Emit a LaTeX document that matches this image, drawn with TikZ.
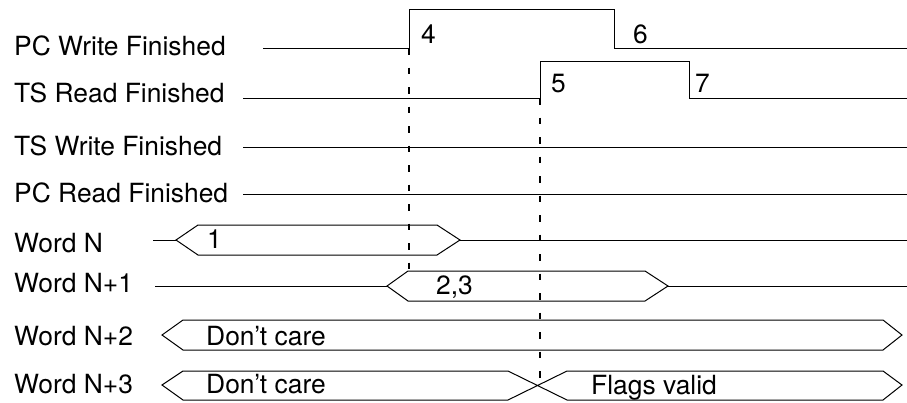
\documentclass[tikz,border=0pt]{standalone}
\usepackage{fontspec}
\setmainfont{TeX Gyre Heros}
\usetikzlibrary{positioning}

\begin{document}
\begin{tikzpicture}[x=1pt,y=-1pt,
    sig/.style={line width=1pt, line join=miter},
    marker/.style={line width=2pt, dash pattern=on 6.5pt off 13pt},
    lbl/.style={anchor=base west, inner sep=0pt, font=\fontsize{26.4}{30}\selectfont}]
  \useasboundingbox (0,0) rectangle (907,402);
  % signal names
  \foreach \name/\txt/\y in {pcw/PC Write Finished/55, tsr/TS Read Finished/102,
      tsw/TS Write Finished/155, pcr/PC Read Finished/202, wn/Word N/252,
      wna/Word N+1/292, wnb/Word N+2/345, wnc/Word N+3/393}
    \node[lbl] (\name) at (14,\y) {\txt};
  % flag lines
  \draw[sig] (263,48) -- (409,48) -- (409,9) -- (614,9) -- (614,48) -- (907,48);
  \draw[sig] (243,98) -- (540,98) -- (540,61) -- (689,61) -- (689,98) -- (907,98);
  \draw[sig] (243,147) -- (907,147);
  \draw[sig] (243,194) -- (907,194);
  % data words
  \draw[sig] (153,240) -- (176,240) (460,240) -- (907,240);
  \draw[sig] (176,240) -- (198,225) -- (437,225) -- (460,240) -- (437,255) -- (198,255) -- cycle;
  \draw[sig] (155,286) -- (387,286) (668,286) -- (907,286);
  \draw[sig] (387,286) -- (408,271) -- (645,271) -- (668,286) -- (645,301) -- (408,301) -- cycle;
  \draw[sig] (162,335) -- (183,320) -- (883,320) -- (902,335) -- (883,350) -- (183,350) -- cycle;
  \draw[sig] (162,385) -- (183,371) -- (508,371) -- (567,400) -- (883,400) -- (902,385)
    -- (883,371) -- (567,371) -- (508,400) -- (183,400) -- cycle;
  % event markers
  \coordinate (rise4) at (409,48);
  \coordinate (wna-open) at (409,271);
  \coordinate (rise5) at (540,98);
  \coordinate (wnc-cross) at (540,385);
  \draw[marker] (rise4) -- (wna-open);
  \draw[marker] (rise5) -- (wnc-cross);
  % step numbers
  \node[lbl] (e4) at (421,43) {4};
  \node[lbl] (e6) at (633,43) {6};
  \node[lbl] (e5) at (551,92) {5};
  \node[lbl] (e7) at (695,92) {7};
  \node[lbl] (e1) at (207,248) {1};
  \node[lbl] (e23) at (436,294) {2,3};
  \node[lbl] (dc1) at (206,345) {Don't care};
  \node[lbl] (dc2) at (206,393) {Don't care};
  \node[lbl] (fv) at (591,394) {Flags valid};
\end{tikzpicture}
\end{document}
